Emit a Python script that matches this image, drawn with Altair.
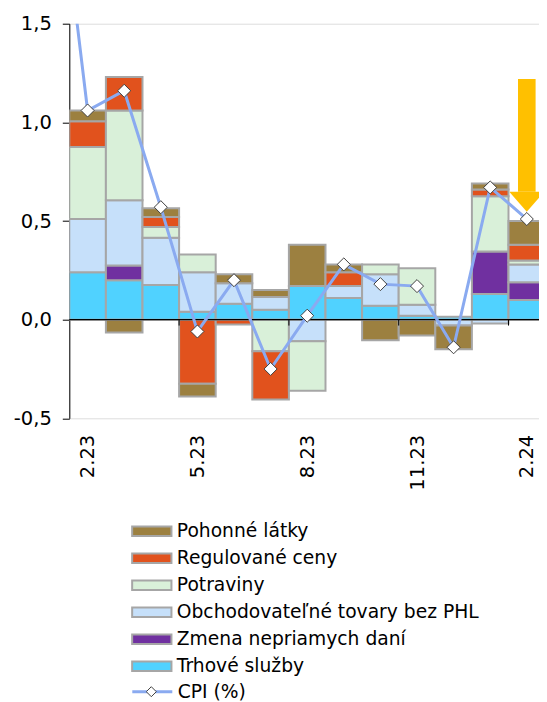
import altair as alt
import pandas as pd

# ---------------- data ----------------
months = ["2.23", "3.23", "4.23", "5.23", "6.23", "7.23", "8.23",
          "9.23", "10.23", "11.23", "12.23", "1.24", "2.24"]
label_months = [0, 3, 6, 9, 12]

# legend order (top to bottom)
categories = ["Pohonné látky", "Regulované ceny", "Potraviny",
              "Obchodovateľné tovary bez PHL", "Zmena nepriamych daní",
              "Trhové služby"]
colors = ["#9C8040", "#E1521D", "#D9F0D9", "#C6E0FA", "#7030A0", "#50D2FF"]

pohonne    = [0.055, -0.065, 0.045, -0.065, 0.045, 0.035, 0.21, 0.04, -0.105, -0.08, -0.12, 0.03, 0.12]
regulovane = [0.13, 0.17, 0.05, -0.325, -0.025, -0.245, 0.0, 0.07, 0.0, 0.0, 0.0, 0.035, 0.08]
potraviny  = [0.365, 0.455, 0.055, 0.09, 0.0, -0.16, -0.25, 0.0, 0.05, 0.185, 0.0, 0.28, 0.02]
obchod     = [0.27, 0.33, 0.24, 0.20, 0.105, 0.065, -0.11, 0.06, 0.16, 0.055, -0.03, -0.02, 0.09]
zmena      = [0.0, 0.075, 0.0, 0.0, 0.0, 0.0, 0.0, 0.0, 0.0, 0.0, 0.0, 0.215, 0.09]
trhove     = [0.24, 0.20, 0.175, 0.04, 0.08, 0.05, 0.17, 0.11, 0.07, 0.02, 0.015, 0.13, 0.10]

cpi_prev = 2.60   # 1.23 (off the top of the chart)
cpi = [1.06, 1.16, 0.57, -0.06, 0.20, -0.25, 0.02, 0.28, 0.18, 0.17, -0.14, 0.67, 0.51]

arrow_month = 12
arrow_top = 1.22
arrow_base = 0.648

tick_bounds = [2.5, 5.5, 8.5, 11.5]

# ---------------- tables ----------------
series = dict(zip(categories, [pohonne, regulovane, potraviny, obchod, zmena, trhove]))
stack_order = list(reversed(categories))
rows = []
for i, m in enumerate(months):
    pos, neg = 0.0, 0.0
    for c in stack_order:
        v = series[c][i]
        if v == 0:
            continue
        if v > 0:
            rows.append(dict(x0=i - 0.5, x1=i + 0.5, y0=pos, y1=pos + v, cat=c))
            pos += v
        else:
            rows.append(dict(x0=i - 0.5, x1=i + 0.5, y0=neg, y1=neg + v, cat=c))
            neg += v
bar_df = pd.DataFrame(rows)

cpi_df = pd.DataFrame({
    "idx": [-1] + list(range(len(months))),
    "cpi": [cpi_prev] + cpi,
    "series": "CPI (%)",
    "series2": "CPI",
})
zero_df = pd.DataFrame({"v": [0.0]})
tick_df = pd.DataFrame({"b": tick_bounds, "t0": [0.0] * 4, "t1": [-0.03] * 4})
arrow_df = pd.DataFrame({"idx": [arrow_month], "top": [arrow_top], "base": [arrow_base]})

# ---------------- chart ----------------
FONT = "DejaVu Sans"
BAND = 36.6
W, H = 469.7, 394.6
xscale = alt.Scale(domain=[-0.5, -0.5 + W / BAND], nice=False, zero=False)
yscale = alt.Scale(domain=[-0.5, 1.5], nice=False, zero=False)

month_arr = "[" + ",".join("'%s'" % m for m in months) + "]"
xaxis = alt.Axis(values=label_months, labelExpr=month_arr + "[datum.value]",
                 labelAngle=-90, domain=False, ticks=False, tickSize=0,
                 labelPadding=16, labelFontSize=19.5, labelFont=FONT,
                 labelColor="black", grid=False, title=None)
yaxis = alt.Axis(values=[-0.5, 0, 0.5, 1, 1.5],
                 labelExpr="(datum.value < 0 ? '-' : '') + replace(format(abs(datum.value), '.1f'), '.', ',')",
                 domainColor="black", domainWidth=1, tickColor="black", tickWidth=1,
                 tickSize=7, labelPadding=11, labelFontSize=19.5, labelFont=FONT,
                 labelColor="black", grid=False, title=None)

LX = 61.5
LY = 494.0
ROW = 27
LFS = 18.7
bars = alt.Chart(bar_df).mark_rect(stroke="#A6A6A6", strokeWidth=2, clip=True).encode(
    x=alt.X("x0:Q", scale=xscale, axis=xaxis),
    x2="x1:Q",
    y=alt.Y("y0:Q", scale=yscale, axis=yaxis),
    y2="y1:Q",
    color=alt.Color("cat:N", scale=alt.Scale(domain=categories, range=colors),
                    legend=alt.Legend(orient="none", legendX=LX, legendY=LY, title=None,
                                      symbolType="M-1,-0.24L1,-0.24L1,0.24L-1,0.24Z",
                                      symbolSize=1544, symbolStrokeColor="#A6A6A6",
                                      symbolStrokeWidth=2, labelFont=FONT, labelFontSize=LFS,
                                      labelColor="black", labelLimit=1000, clipHeight=ROW,
                                      rowPadding=0, padding=0, labelOffset=4)),
)

zero = alt.Chart(zero_df).mark_rule(color="black", strokeWidth=1.3).encode(
    y=alt.Y("v:Q", scale=yscale))

ticks = alt.Chart(tick_df).mark_rule(color="black", strokeWidth=1).encode(
    x=alt.X("b:Q", scale=xscale), y=alt.Y("t0:Q", scale=yscale), y2="t1:Q")

LY2 = 654.5
line = alt.Chart(cpi_df).mark_line(strokeWidth=3, clip=True).encode(
    x=alt.X("idx:Q", scale=xscale),
    y=alt.Y("cpi:Q", scale=yscale),
    stroke=alt.Stroke("series:N", scale=alt.Scale(domain=["CPI (%)"], range=["#8AAAF0"]),
                      legend=alt.Legend(orient="none", legendX=LX, legendY=LY2,
                                        title=None, symbolType="M-1,0L1,0", symbolSize=1600,
                                        symbolStrokeWidth=3, labelFont=FONT, labelFontSize=LFS,
                                        labelColor="black", clipHeight=ROW, padding=0,
                                        labelOffset=4)),
)

points = alt.Chart(cpi_df).mark_point(filled=True, shape="diamond", stroke="#404040",
                                      strokeWidth=1, size=170, opacity=1, clip=True).encode(
    x=alt.X("idx:Q", scale=xscale),
    y=alt.Y("cpi:Q", scale=yscale),
    fill=alt.Fill("series2:N", scale=alt.Scale(domain=["CPI"], range=["white"]),
                  legend=alt.Legend(orient="none", legendX=LX + 15, legendY=LY2,
                                    title=None, symbolType="diamond", symbolSize=100,
                                    symbolStrokeColor="#404040", symbolStrokeWidth=1,
                                    labelExpr="''", clipHeight=ROW, padding=0)),
)

shaft = alt.Chart(arrow_df).mark_rule(color="#FFC000", strokeWidth=17.6, strokeCap="butt",
                                      clip=True).encode(
    x=alt.X("idx:Q", scale=xscale), y=alt.Y("top:Q", scale=yscale), y2="base:Q")

head = alt.Chart(arrow_df).mark_point(shape="M-1,0L1,0L0,1.14Z", size=1225, filled=True,
                                      color="#FFC000", opacity=1, clip=True).encode(
    x=alt.X("idx:Q", scale=xscale), y=alt.Y("base:Q", scale=yscale))

chart = alt.layer(bars, zero, ticks, line, points, shaft, head).properties(
    width=W, height=H,
    autosize=alt.AutoSizeParams(type="none"),
    padding={"left": 61.3, "top": 15.7, "right": 0, "bottom": 283.7},
).configure_view(stroke=None).configure(font=FONT)

chart.save("out.html", embed_options={"renderer": "svg", "actions": False})
